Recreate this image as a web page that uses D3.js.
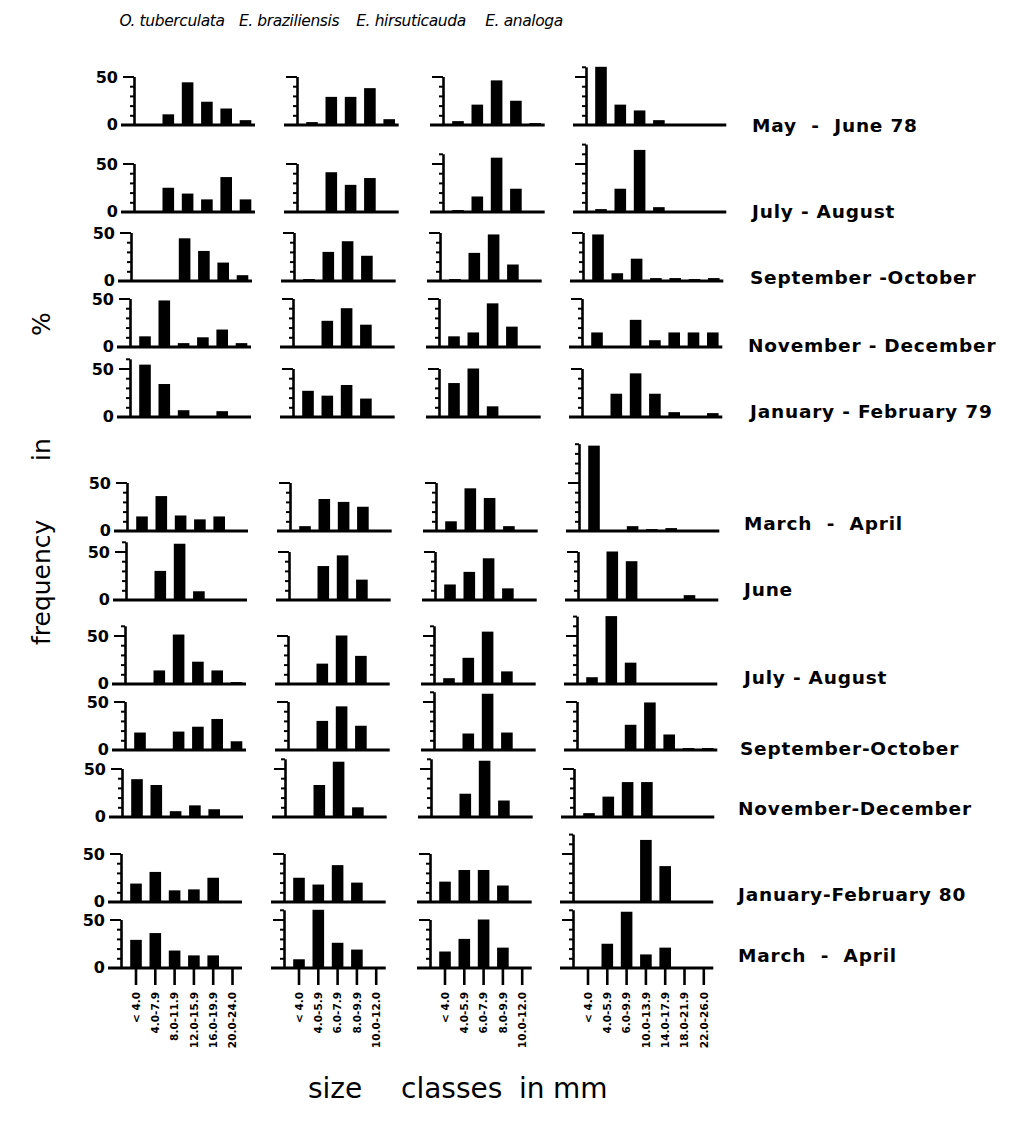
<!DOCTYPE html>
<html><head><meta charset="utf-8">
<script src="https://cdn.jsdelivr.net/npm/d3@7"></script>
<style>body{margin:0;background:#fff} svg{display:block;background:#fff}</style>
</head><body><svg id="c" width="1012" height="1124"></svg>
<script>
// ---------------- data ----------------
const speciesNames = ["O. tuberculata", "E. braziliensis", "E. hirsuticauda", "E. analoga"];
const classesOT = ["< 4.0", "4.0-7.9", "8.0-11.9", "12.0-15.9", "16.0-19.9", "20.0-24.0"];
const classesEB = ["< 4.0", "4.0-5.9", "6.0-7.9", "8.0-9.9", "10.0-12.0"];
const classesEH = ["< 4.0", "4.0-5.9", "6.0-7.9", "8.0-9.9", "10.0-12.0"];
const classesEA = ["< 4.0", "4.0-5.9", "6.0-9.9", "10.0-13.9", "14.0-17.9", "18.0-21.9", "22.0-26.0"];
const periods = ["May  -  June 78", "July - August", "September -October", "November - December",
  "January - February 79", "March  -  April", "June", "July - August", "September-October",
  "November-December", "January-February 80", "March  -  April"];
const yTickLabels = [0, 50];

// frequency in % per period (rows) and size class (columns)
const valuesOT = [
  [0, 11, 44, 24, 17, 5],
  [0, 25, 19, 13, 36, 13],
  [0, 0, 44, 31, 19, 6],
  [11, 48, 4, 10, 18, 4],
  [54, 34, 7, 1, 6, 1],
  [15, 36, 16, 12, 15, 0],
  [0, 30, 58, 9, 1, 0],
  [0, 14, 51, 23, 14, 2],
  [18, 0, 19, 24, 32, 9],
  [39, 33, 6, 12, 8, 0],
  [19, 31, 12, 13, 25, 0],
  [29, 36, 18, 13, 13, 0]
];
const valuesEB = [
  [3, 29, 29, 38, 6],
  [0, 41, 28, 35, 1],
  [2, 30, 41, 26, 1],
  [0, 27, 40, 23, 1],
  [27, 22, 33, 19, 0],
  [5, 33, 30, 25, 0],
  [0, 35, 46, 21, 0],
  [0, 21, 50, 29, 0],
  [0, 30, 45, 25, 0],
  [0, 33, 57, 10, 0],
  [25, 18, 38, 20, 0],
  [9, 60, 26, 19, 0]
];
const valuesEH = [
  [4, 21, 46, 25, 2],
  [2, 16, 56, 24, 1],
  [2, 29, 48, 17, 1],
  [11, 15, 45, 21, 0],
  [35, 50, 11, 1, 0],
  [10, 44, 34, 5, 0],
  [16, 29, 43, 12, 0],
  [6, 27, 54, 13, 0],
  [0, 17, 58, 18, 0],
  [0, 24, 58, 17, 0],
  [21, 33, 33, 17, 0],
  [17, 30, 50, 21, 0]
];
const valuesEA = [
  [60, 21, 15, 5, 1, 1, 0],
  [3, 24, 64, 5, 0, 0, 0],
  [48, 8, 23, 3, 3, 2, 3],
  [15, 0, 28, 7, 15, 15, 15],
  [0, 24, 45, 24, 5, 0, 4],
  [88, 0, 5, 2, 3, 0, 0],
  [0, 50, 40, 0, 0, 5, 0],
  [7, 70, 22, 0, 0, 0, 0],
  [0, 0, 26, 49, 16, 2, 2],
  [4, 21, 36, 36, 0, 0, 0],
  [0, 0, 0, 64, 37, 0, 0],
  [0, 25, 58, 14, 21, 0, 0]
];

// ---------------- layout ----------------
const series = [valuesOT, valuesEB, valuesEH, valuesEA];
const classSets = [classesOT, classesEB, classesEH, classesEA];
const rowBase = [125, 212, 281, 347, 417, 531, 600, 684, 750, 817, 902, 968];
const rowShift = [0, 0, -3, -4, -4, -7, -8, -9, -9, -12, -13, -13];
const colFirst = [149, 312, 458, 601];
const rowLabelX = [752, 752, 750, 748, 750, 744, 744, 744, 740, 738, 738, 738];
const rowLabelY = [125, 211, 277, 345, 411, 523, 589, 677, 748, 808, 894, 955];
const titleX = [172, 289, 411, 524];
const step = 19.3, pxPerPct = 0.97;
const FONT = "'DejaVu Sans', sans-serif";

const svg = d3.select("#c");

periods.forEach((p, r) => {
  series.forEach((vals, c) => {
    const cls = classSets[c];
    const data = vals[r];
    const first = colFirst[c] + rowShift[r];
    const x = d3.scaleBand().domain(cls)
      .range([first - step / 2, first - step / 2 + cls.length * step])
      .paddingInner(0.43).paddingOuter(0.215);
    const top = Math.max(50, Math.ceil(d3.max(data) / 10) * 10);
    const base = rowBase[r];
    const y = d3.scaleLinear().domain([0, top]).range([base, base - top * pxPerPct]);
    const axisX = first - 15;
    const g = svg.append("g");

    g.selectAll("rect").data(data).join("rect")
      .attr("x", (d, i) => x(cls[i]) - 0.3)
      .attr("width", x.bandwidth() + 0.6)
      .attr("y", d => y(d))
      .attr("height", d => y(0) - y(d))
      .attr("fill", "#000");

    g.append("line")
      .attr("x1", axisX - 13)
      .attr("x2", x(cls[cls.length - 1]) + x.bandwidth() + 4)
      .attr("y1", base).attr("y2", base)
      .attr("stroke", "#000").attr("stroke-width", 3);

    const ax = g.append("g").attr("transform", `translate(${axisX},0)`)
      .call(d3.axisLeft(y).tickValues(d3.range(10, top + 1, 10))
        .tickSize(4).tickSizeOuter(0).tickFormat(""));
    ax.select(".domain").attr("stroke", "#000").attr("stroke-width", 2.6);
    ax.selectAll(".tick line").attr("stroke", "#000").attr("stroke-width", 2)
      .attr("x2", d => d === 50 ? -11 : -4);

    if (c === 0) {
      g.selectAll("text.yl").data(yTickLabels).join("text").attr("class", "yl")
        .attr("x", axisX - 16).attr("y", d => y(d))
        .attr("dy", d => d === 0 ? "0.3em" : "0.42em").attr("text-anchor", "end")
        .style("font-family", FONT).style("font-size", "16px").style("font-weight", "bold")
        .text(d => d);
    }

    if (r === periods.length - 1) {
      const bx = g.append("g").attr("transform", `translate(0,${base})`)
        .call(d3.axisBottom(x).tickSize(17).tickSizeOuter(0));
      bx.select(".domain").remove();
      bx.selectAll(".tick line").attr("stroke", "#000").attr("stroke-width", 2.6);
      bx.selectAll(".tick text")
        .attr("transform", "rotate(-90)")
        .attr("x", -24).attr("y", 0).attr("dy", "0.36em")
        .attr("text-anchor", "end")
        .style("font-family", FONT).style("font-size", "10.5px").style("font-weight", "bold")
        .attr("fill", "#000");
    }
  });

  svg.append("text")
    .attr("x", rowLabelX[r]).attr("y", rowLabelY[r]).attr("dy", "0.36em")
    .style("font-family", FONT).style("font-size", "18.5px").style("font-weight", "bold")
    .style("letter-spacing", "0.8px").style("white-space", "pre")
    .text(p);
});

// species titles
svg.selectAll("text.title").data(speciesNames).join("text").attr("class", "title")
  .attr("x", (d, i) => titleX[i]).attr("y", 26).attr("text-anchor", "middle")
  .style("font-family", FONT).style("font-size", "15.5px").style("font-style", "italic")
  .style("letter-spacing", "-0.4px")
  .text(d => d);

// y axis title
const yt = svg.append("text").attr("transform", "rotate(-90)")
  .style("font-family", FONT).style("font-size", "25px");
yt.append("tspan").attr("x", -645).attr("y", 50).text("frequency");
yt.append("tspan").attr("x", -461).attr("y", 50).text("in");
yt.append("tspan").attr("x", -336).attr("y", 50).text("%");

// x axis title
const xt = svg.append("text").style("font-family", FONT).style("font-size", "28px");
xt.append("tspan").attr("x", 308).attr("y", 1098).text("size");
xt.append("tspan").attr("x", 401).attr("y", 1098).text("classes");
xt.append("tspan").attr("x", 519).attr("y", 1098).text("in");
xt.append("tspan").attr("x", 553).attr("y", 1098).text("mm");
</script></body></html>
